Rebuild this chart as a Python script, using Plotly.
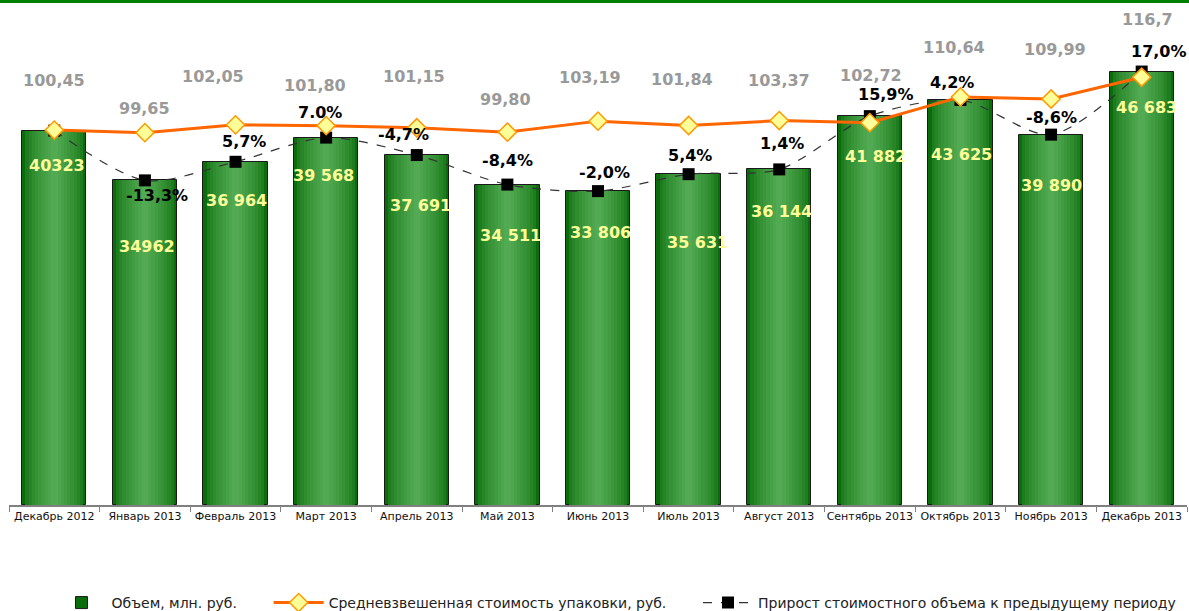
import plotly.graph_objects as go

# ---------------- data ----------------
months = ["Декабрь 2012", "Январь 2013", "Февраль 2013", "Март 2013", "Апрель 2013",
          "Май 2013", "Июнь 2013", "Июль 2013", "Август 2013", "Сентябрь 2013",
          "Октябрь 2013", "Ноябрь 2013", "Декабрь 2013"]
volume = [40323, 34962, 36964, 39568, 37691, 34511, 33806, 35631, 36144, 41882, 43625, 39890, 46683]
volume_text = ["40323", "34962", "36 964", "39 568", "37 691", "34 511", "33 806",
               "35 631", "36 144", "41 882", "43 625", "39 890", "46 683"]
price = [100.45, 99.65, 102.05, 101.80, 101.15, 99.80, 103.19, 101.84, 103.37, 102.72, 110.64, 109.99, 116.7]
price_text = ["100,45", "99,65", "102,05", "101,80", "101,15", "99,80", "103,19",
              "101,84", "103,37", "102,72", "110,64", "109,99", "116,7"]
growth_text = ["", "-13,3%", "5,7%", "7.0%", "-4,7%", "-8,4%", "-2,0%",
               "5,4%", "1,4%", "15,9%", "4,2%", "-8,6%", "17,0%"]

series_names = ["Объем, млн. руб.",
                "Средневзвешенная стоимость упаковки, руб.",
                "Прирост стоимостного объема к предыдущему периоду"]

# ---------------- label placement (pixel offsets) ----------------
price_dy = [50, 24, 48, 40, 51, 33, 44, 46, 40, 47, 49, 50, 58]
price_dx = [0, 0, -23, -11, -3, -2, -8, -7, 0, 1, -6, 4, 6]
growth_dy = [0, -15, 20, 25, 21, 24, 19, 19, 26, 22, 17, 17, 20]
growth_dx = [0, 12, 8, -6, -13, 0, 6, 1, 3, 16, -8, 0, 17]
vol_dy = [-35, -66, -39, -38, -50, -51, -41, -68, -42, -40, -55, -51, -36]
vol_dx = [3, 2, 1, -3, 4, 3, 2, 9, 2, 6, 1, 0, 5]

FONT = "DejaVu Sans"
NBSP = "\u00a0"

fig = go.Figure()

# gradient bars built from overlaid layers
edge = (10, 108, 10)
center = (82, 170, 82)
n_layers = 10
full_w = 0.71
for k in range(n_layers):
    t = k / (n_layers - 1)
    t = t ** 0.6
    col = "rgb(%d,%d,%d)" % tuple(int(edge[i] + (center[i] - edge[i]) * t) for i in range(3))
    w = full_w * (1 - k / n_layers)
    fig.add_trace(go.Bar(
        x=months, y=volume, width=w,
        marker=dict(color=col,
                    line=dict(color="#1a1a1a" if k == 0 else col, width=1 if k == 0 else 0)),
        name=series_names[0] + NBSP * 6, showlegend=(k == 0), legendrank=1,
        hoverinfo="skip" if k else None,
    ))

# weighted average price (secondary axis)
fig.add_trace(go.Scatter(
    x=months, y=price, yaxis="y2", mode="lines+markers",
    name=series_names[1] + NBSP * 6, legendrank=2,
    line=dict(color="#FF6600", width=3),
    marker=dict(symbol="diamond", size=14, color="#FFFF99", line=dict(color="#FF9900", width=1.5)),
))

# growth markers (sit on bar tops)
fig.add_trace(go.Scatter(
    x=months, y=volume, mode="lines+markers",
    name=series_names[2], legendrank=3,
    line=dict(color="#333333", width=1.2, dash="dash", shape="spline", smoothing=0.8),
    marker=dict(symbol="square", size=12, color="#000000"),
))

ann = []
for i, m in enumerate(months):
    ann.append(dict(x=m, y=price[i], yref="y2", text=price_text[i], showarrow=False,
                    xanchor="center", yanchor="middle", xshift=price_dx[i], yshift=price_dy[i],
                    font=dict(family=FONT, size=16, color="#999999", weight="bold")))
    if growth_text[i]:
        ann.append(dict(x=m, y=volume[i], yref="y", text=growth_text[i], showarrow=False,
                        xanchor="center", yanchor="middle", xshift=growth_dx[i], yshift=growth_dy[i],
                        font=dict(family=FONT, size=16, color="#000000", weight="bold")))
    ann.append(dict(x=m, y=volume[i], yref="y", text=volume_text[i], showarrow=False,
                    xanchor="center", yanchor="middle", xshift=vol_dx[i], yshift=vol_dy[i],
                    font=dict(family=FONT, size=16, color="#FFFF99", weight="bold")))

fig.update_layout(
    width=1189, height=611,
    margin=dict(l=9, r=2, t=0, b=106, autoexpand=False),
    paper_bgcolor="white", plot_bgcolor="white",
    barmode="overlay",
    bargap=0,
    font=dict(family=FONT, color="#222222"),
    xaxis=dict(type="category", range=[-0.5, 12.5], tickson="boundaries", ticks="outside", ticklen=5,
               tickangle=0, automargin=False,
               tickcolor="#808080", showline=True, linecolor="#808080", linewidth=1.5,
               showgrid=False, tickfont=dict(family=FONT, size=11, color="#111111")),
    yaxis=dict(range=[0, 54389], visible=False, showgrid=False, zeroline=False),
    yaxis2=dict(range=[-14.92, 140.46], overlaying="y", side="right", visible=False,
                showgrid=False, zeroline=False),
    legend=dict(orientation="h", x=0.5157, xanchor="center", y=-0.194, yanchor="middle",
                itemwidth=50,
                font=dict(family=FONT, size=14, color="#222222"), traceorder="normal"),
    annotations=ann,
    shapes=[dict(type="line", xref="paper", yref="paper", x0=-0.02, x1=1.02, y0=0.997, y1=0.997,
                 line=dict(color="#008000", width=3))],
    showlegend=True,
)

fig.write_html("out.html", config={"displayModeBar": False},
               post_script="document.body.style.margin='0';document.body.style.overflow='hidden';")
